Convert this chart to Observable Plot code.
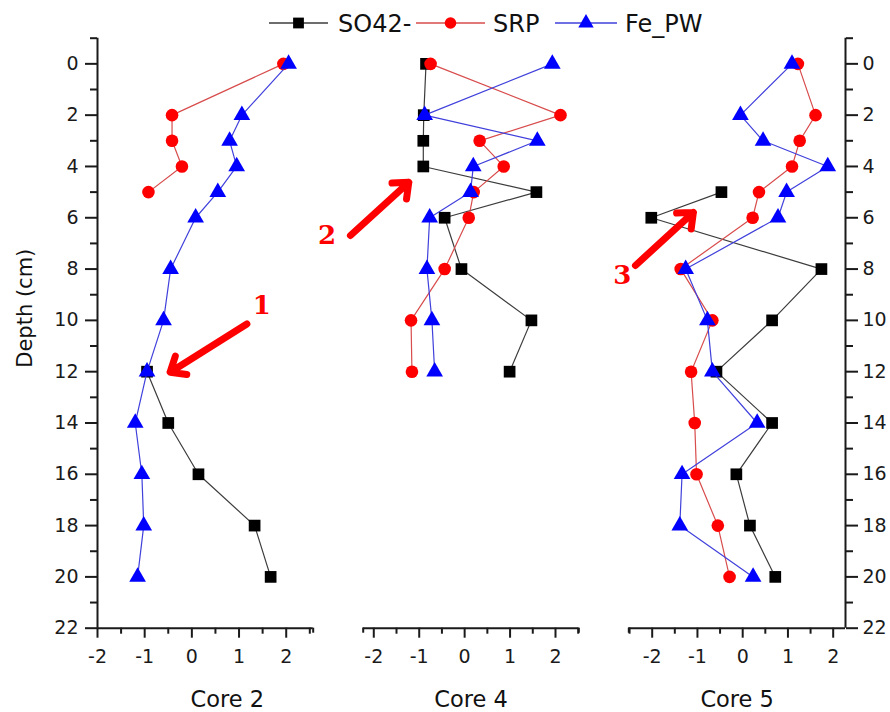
<!DOCTYPE html>
<html>
<head>
<meta charset="utf-8">
<script src="https://cdn.jsdelivr.net/npm/d3@7"></script>
<script src="https://cdn.jsdelivr.net/npm/@observablehq/plot@0.6"></script>
<style>
  html, body { margin: 0; padding: 0; background: #fff; }
  #wrap { position: relative; width: 890px; height: 712px; overflow: hidden; background: #fff; }
  #wrap > svg { position: absolute; left: 0; top: 0; }
</style>
</head>
<body>
<div id="wrap"></div>
<script>
// ---------------- data ----------------
const coreNames = ["Core 2", "Core 4", "Core 5"];
const seriesNames = ["SO42-", "SRP", "Fe_PW"];
const xTicks = [-2, -1, 0, 1, 2];
const xMinorTicks = [-2.5, -1.5, -0.5, 0.5, 1.5, 2.5];
const depthTicks = [0, 2, 4, 6, 8, 10, 12, 14, 16, 18, 20, 22];
const depthMinorTicks = [-1, 1, 3, 5, 7, 9, 11, 13, 15, 17, 19, 21];

// Core 2
const core2SO4Depth = [12, 14, 16, 18, 20];
const core2SO4 = [-0.95, -0.5, 0.14, 1.33, 1.67];
const core2SRPDepth = [0, 2, 3, 4, 5];
const core2SRP = [1.94, -0.42, -0.42, -0.21, -0.92];
const core2FeDepth = [0, 2, 3, 4, 5, 6, 8, 10, 12, 14, 16, 18, 20];
const core2Fe = [2.05, 1.06, 0.8, 0.95, 0.55, 0.08, -0.45, -0.6, -0.95, -1.2, -1.06, -1.02, -1.15];

// Core 4
const core4Depth = [0, 2, 3, 4, 5, 6, 8, 10, 12];
const core4SO4 = [-0.85, -0.9, -0.91, -0.91, 1.58, -0.44, -0.07, 1.47, 0.99];
const core4SRP = [-0.75, 2.11, 0.33, 0.86, 0.2, 0.09, -0.44, -1.18, -1.16];
const core4Fe = [1.93, -0.88, 1.6, 0.19, 0.13, -0.77, -0.83, -0.72, -0.66];

// Core 5
const core5SO4Depth = [5, 6, 8, 10, 12, 14, 16, 18, 20];
const core5SO4 = [-0.47, -2.02, 1.74, 0.65, -0.58, 0.65, -0.14, 0.16, 0.72];
const core5Depth = [0, 2, 3, 4, 5, 6, 8, 10, 12, 14, 16, 18, 20];
const core5SRP = [1.22, 1.61, 1.26, 1.09, 0.36, 0.22, -1.37, -0.67, -1.14, -1.06, -1.02, -0.55, -0.29];
const core5Fe = [1.09, -0.05, 0.45, 1.88, 0.97, 0.78, -1.26, -0.78, -0.67, 0.32, -1.34, -1.39, 0.23];

const annotationLabels = ["1", "2", "3"];

// ---------------- styles & layout ----------------
const seriesStyle = {
  "SO42-": { symbol: "square", fill: "#000000", line: "#3c3c3c", r: 6.6 },
  "SRP":   { symbol: "circle", fill: "#ff0000", line: "#d84c4c", r: 6.3 },
  "Fe_PW": { symbol: "triangle", fill: "#0000ff", line: "#4040dc", r: 6.2 }
};
const W = 890, H = 712, MT = 37.7, MB = 84.3;
const axisColor = "#1a1a1a";
const tickFont = 19;
const panelLayout = [
  { ml: 97,    mr: 577.3, xDomain: [-2, 2.572],     leftAxis: true,  rightAxis: false, capL: false, capR: true,  titleDx: 22 },
  { ml: 362.7, mr: 311.7, xDomain: [-2.233, 2.513], leftAxis: false, rightAxis: false, capL: true,  capR: true,  titleDx: 0 },
  { ml: 628.3, mr: 45,    xDomain: [-2.517, 2.272], leftAxis: false, rightAxis: true,  capL: true,  capR: false, titleDx: 0 }
];
// annotation arrows in each panel's data coordinates
const arrowLayout = [
  { x1: 1.166, y1: 10.14, x2: -0.46, y2: 12.02, lx: 1.48,  ly: 9.42 },
  { x1: -2.514, y1: 6.69, x2: -1.23, y2: 4.62,  lx: -3.03, ly: 6.69 },
  { x1: -2.37, y1: 7.86,  x2: -1.09, y2: 5.79,  lx: -2.66, ly: 8.25 }
];

const coreSeries = [
  [
    { name: "SO42-", depth: core2SO4Depth, value: core2SO4 },
    { name: "SRP",   depth: core2SRPDepth, value: core2SRP },
    { name: "Fe_PW", depth: core2FeDepth,  value: core2Fe }
  ],
  [
    { name: "SO42-", depth: core4Depth, value: core4SO4 },
    { name: "SRP",   depth: core4Depth, value: core4SRP },
    { name: "Fe_PW", depth: core4Depth, value: core4Fe }
  ],
  [
    { name: "SO42-", depth: core5SO4Depth, value: core5SO4 },
    { name: "SRP",   depth: core5Depth,    value: core5SRP },
    { name: "Fe_PW", depth: core5Depth,    value: core5Fe }
  ]
];

const wrap = document.getElementById("wrap");

coreNames.forEach((core, pi) => {
  const L = panelLayout[pi];
  const marks = [];
  const inDomain = v => v >= L.xDomain[0] - 1e-9 && v <= L.xDomain[1] + 1e-9;

  // bottom axis
  marks.push(Plot.ruleY([22], { x1: L.xDomain[0], x2: L.xDomain[1], stroke: axisColor, strokeWidth: 2 }));
  marks.push(Plot.axisX(xTicks, { anchor: "bottom", tickSize: 10, tickPadding: 11, tickFormat: d => String(d),
    fontSize: tickFont, label: null, stroke: axisColor, strokeWidth: 2, fill: axisColor }));
  marks.push(Plot.axisX(xMinorTicks.filter(inDomain), { anchor: "bottom", tickSize: 6, label: null,
    stroke: axisColor, strokeWidth: 2, fill: "none" }));
  const caps = [];
  if (L.capL) caps.push(L.xDomain[0]);
  if (L.capR) caps.push(L.xDomain[1]);
  if (caps.length) marks.push(Plot.axisX(caps, { anchor: "bottom", tickSize: 5, label: null,
    stroke: axisColor, strokeWidth: 2, fill: "none" }));

  if (L.leftAxis) {
    marks.push(Plot.ruleX([L.xDomain[0]], { y1: -1, y2: 22, stroke: axisColor, strokeWidth: 2 }));
    marks.push(Plot.axisY(depthTicks, { anchor: "left", tickSize: 12, tickPadding: 7, fontSize: tickFont,
      label: null, stroke: axisColor, strokeWidth: 2, fill: axisColor, tickFormat: d => String(d) }));
    marks.push(Plot.axisY(depthMinorTicks, { anchor: "left", tickSize: 7, label: null,
      stroke: axisColor, strokeWidth: 2, fill: "none" }));
    marks.push(Plot.text(["Depth (cm)"], { text: d => d, frameAnchor: "left", rotate: -90,
      textAnchor: "middle", lineAnchor: "middle", dx: -72, dy: -25, fontSize: 21, fill: "#111" }));
  }
  if (L.rightAxis) {
    marks.push(Plot.ruleX([L.xDomain[1]], { y1: -1, y2: 22, stroke: axisColor, strokeWidth: 2 }));
    marks.push(Plot.axisY(depthTicks, { anchor: "right", tickSize: 12, tickPadding: 5, fontSize: tickFont,
      label: null, stroke: axisColor, strokeWidth: 2, fill: axisColor, tickFormat: d => String(d) }));
    marks.push(Plot.axisY(depthMinorTicks, { anchor: "right", tickSize: 7, label: null,
      stroke: axisColor, strokeWidth: 2, fill: "none" }));
  }

  // panel title
  marks.push(Plot.text([core], { text: d => d, frameAnchor: "bottom", dy: 72, dx: L.titleDx,
    fontSize: 22.5, lineAnchor: "middle", fill: "#111" }));

  // series: line then symbols, in legend order
  coreSeries[pi].forEach(s => {
    const st = seriesStyle[s.name];
    const data = s.depth.map((d, i) => ({ depth: d, value: s.value[i] }));
    marks.push(Plot.line(data, { x: "value", y: "depth", stroke: st.line, strokeWidth: 1.2 }));
    marks.push(Plot.dot(data, { x: "value", y: "depth", symbol: st.symbol, r: st.r, fill: st.fill, stroke: "none" }));
  });

  // annotation arrow + number
  const A = arrowLayout[pi];
  marks.push(Plot.arrow([A], { x1: "x1", y1: "y1", x2: "x2", y2: "y2", stroke: "#ff0000",
    strokeWidth: 7, headLength: 3.6, headAngle: 80 }));
  marks.push(Plot.text([A], { x: "lx", y: "ly", text: () => annotationLabels[pi], fill: "#ff0000",
    fontFamily: "DejaVu Serif", fontWeight: "bold", fontSize: 26 }));

  const svg = Plot.plot({
    width: W, height: H,
    marginLeft: L.ml, marginRight: L.mr, marginTop: MT, marginBottom: MB,
    x: { domain: L.xDomain, axis: null },
    y: { domain: [-1, 22], reverse: true, axis: null },
    style: { background: "transparent", overflow: "visible", fontFamily: "DejaVu Sans", color: "#111" },
    marks
  });
  wrap.appendChild(svg);
});

// ---------------- legend (above the plots) ----------------
const legendLayout = [
  { x1: 269, x2: 328, tx: 338 },
  { x1: 416, x2: 485, tx: 493 },
  { x1: 555, x2: 617, tx: 625 }
];
const legendY = 23;
const lg = d3.create("svg").attr("width", W).attr("height", 46)
  .style("position", "absolute").style("left", "0").style("top", "0");
seriesNames.forEach((name, i) => {
  const st = seriesStyle[name];
  const P = legendLayout[i];
  lg.append("line").attr("x1", P.x1).attr("x2", P.x2).attr("y1", legendY).attr("y2", legendY)
    .attr("stroke", st.line).attr("stroke-width", 1.5);
  const sym = { square: d3.symbolSquare, circle: d3.symbolCircle, triangle: d3.symbolTriangle }[st.symbol];
  lg.append("path").attr("d", d3.symbol(sym, Math.PI * st.r * st.r * 0.85)())
    .attr("transform", `translate(${(P.x1 + P.x2) / 2},${legendY})`).attr("fill", st.fill);
  lg.append("text").attr("x", P.tx).attr("y", legendY).attr("dy", "0.36em")
    .attr("font-family", "DejaVu Sans").attr("font-size", 24).attr("fill", "#111").text(name);
});
wrap.appendChild(lg.node());
</script>
</body>
</html>
